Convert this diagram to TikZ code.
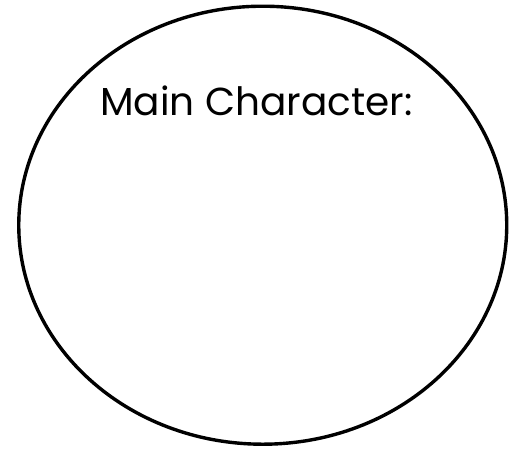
\documentclass[tikz,border=0pt]{standalone}
\usepackage{fontspec}
\setmainfont{Poppins}
\usetikzlibrary{shapes.geometric}
\begin{document}
\begin{tikzpicture}[x=1pt,y=-1pt,
  outline/.style={draw=black,line width=3.4pt},
  label/.style={font=\fontsize{39}{45}\selectfont,inner sep=0pt,anchor=base west}]
\useasboundingbox (0,0) rectangle (524,450);
\node[outline,ellipse,minimum width=488,minimum height=438,inner sep=0pt] (circ) at (262.75,225.2) {};
\node[label] (title) at (100,115) {Main Character:};
\end{tikzpicture}
\end{document}
